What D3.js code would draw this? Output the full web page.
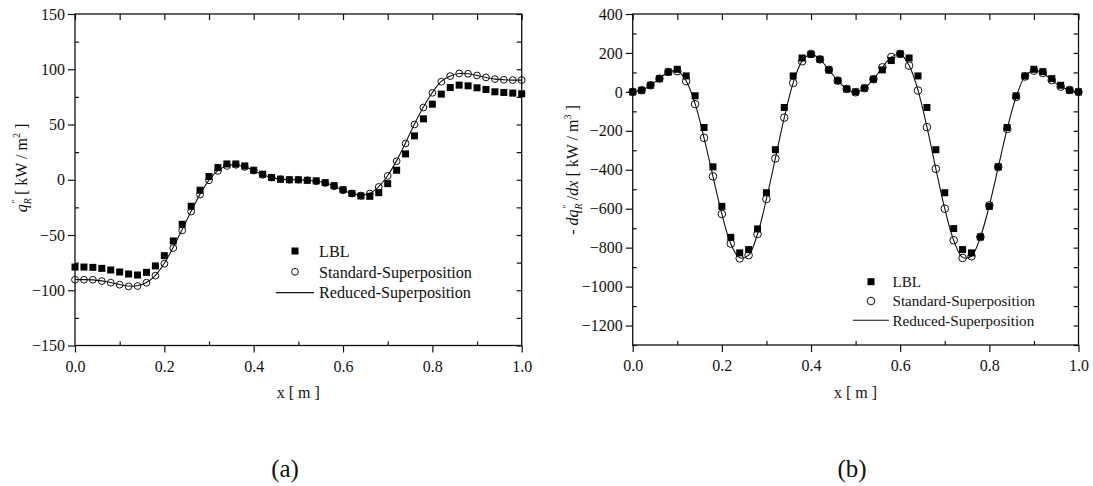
<!DOCTYPE html>
<html><head><meta charset="utf-8">
<script src="https://cdn.jsdelivr.net/npm/d3@7"></script>
<style>body{margin:0;background:#fff}svg{display:block}text{font-family:"Liberation Serif","Times New Roman",serif;fill:#111}</style>
</head><body><div id="chart"></div>
<script>
// ---------------- data ----------------
const xGrid = [0,0.02,0.04,0.06,0.08,0.10,0.12,0.14,0.16,0.18,0.20,0.22,0.24,0.26,0.28,0.30,0.32,0.34,0.36,0.38,0.40,0.42,0.44,0.46,0.48,0.50,0.52,0.54,0.56,0.58,0.60,0.62,0.64,0.66,0.68,0.70,0.72,0.74,0.76,0.78,0.80,0.82,0.84,0.86,0.88,0.90,0.92,0.94,0.96,0.98,1.00];

// panel (a): q_R [kW/m2]
const qLBL = [-79,-79,-79.3,-80.2,-81.7,-83.5,-85.3,-86.2,-83.8,-78,-68.7,-55.4,-40.3,-24,-9.5,2.9,11,14.3,14.3,12.5,8.6,5,2,0.5,0,0,-0.5,-1,-2.6,-5.3,-9,-12.4,-14.7,-15,-11.7,-3.5,8.6,23.4,39.7,55.1,68.4,77.5,83.5,85.6,85,83.2,81.7,79.6,79,78.4,77.8];
const qStandard = [-90.5,-90.5,-90.5,-91.7,-93.2,-95,-96.5,-96.2,-93.2,-86.8,-76,-61.8,-45.8,-28.8,-13.4,-0.5,8,12.5,13.5,11.6,8.3,4.4,2,0.5,0,0,-0.5,-1.3,-2.9,-5.9,-9.5,-12.5,-14.3,-12.5,-6.5,3.5,16.8,32.8,50,65.4,78.7,88.7,93.8,96.2,95.9,94.4,92.6,91.1,90.5,90.2,90.2];
const qReduced = [-90.3,-90.4,-90.6,-91.5,-93,-94.8,-96.2,-96,-93,-86.5,-75.5,-61,-45,-28.5,-13,-0.3,8.2,12.7,13.6,11.7,8.3,4.5,2.1,0.6,0.1,0,-0.4,-1.2,-2.8,-5.8,-9.4,-12.4,-14.1,-12.3,-6.2,3.8,17.3,33.5,50.5,65.8,79,89,94,96.2,95.9,94.4,92.6,91.1,90.5,90.2,90.2];

// panel (b): -dq_R/dx [kW/m3]
const dLBL = [0,8,34,68,102,116,82,-20,-183,-385,-588,-747,-827,-810,-704,-518,-297,-80,82,174,193,167,113,58,15,0,19,65,113,161,195,174,82,-80,-297,-518,-702,-810,-827,-745,-588,-385,-183,-20,82,116,104,68,34,8,0];
const dStandard = [0,8.5,34,68,102.5,106,55,-63,-236,-434,-627,-779,-855,-839,-730,-550,-342,-132,46,157,195,167,113,58,15,-2,19,65,126,179,195,135,7,-181,-395,-600,-762,-853,-844,-745,-583,-386,-190,-26,79,109,97,60,27,10,0];
const dReduced = [0,8,34,68,102,107,56,-62,-236,-434,-627,-780,-852,-838,-730,-550,-342,-132,46,158,194,167,113,58,15,-1,19,65,126,178,194,136,8,-180,-395,-600,-762,-850,-843,-745,-583,-386,-190,-26,79,109,97,60,27,10,0];

// ticks
const xMajor = [0,0.2,0.4,0.6,0.8,1.0];
const xMinor = [0.1,0.3,0.5,0.7,0.9];
const qMajor = [-150,-100,-50,0,50,100,150];
const qMinor = [-125,-75,-25,25,75,125];
const dMajor = [-1200,-1000,-800,-600,-400,-200,0,200,400];
const dMinor = [-1300,-1100,-900,-700,-500,-300,-100,100,300];
const seriesNames = ["LBL","Standard-Superposition","Reduced-Superposition"];
const panelLabels = ["(a)","(b)"];

// ---------------- drawing ----------------
const W = 1093, H = 486;
const svg = d3.select("#chart").append("svg").attr("width", W).attr("height", H);
svg.append("rect").attr("width", W).attr("height", H).attr("fill", "#fff");

function panel(o) {
  const x = d3.scaleLinear().domain([0, 1]).range([o.x0, o.x1]);
  const y = d3.scaleLinear().domain(o.yDomain).range([o.y1, o.y0]);
  const g = svg.append("g");
  const noLab = "";

  // major outward ticks + labels (left, bottom)
  const ax = g.append("g").attr("transform", `translate(${o.x0},0)`)
    .call(d3.axisLeft(y).tickValues(o.yMajor).tickSize(7).tickPadding(3).tickFormat(d3.format("d")));
  const bx = g.append("g").attr("transform", `translate(0,${o.y1})`)
    .call(d3.axisBottom(x).tickValues(xMajor).tickSize(7).tickPadding(8).tickFormat(d3.format(".1f")));
  // minor inward ticks (left, bottom)
  g.append("g").attr("transform", `translate(${o.x0},0)`)
    .call(d3.axisRight(y).tickValues(o.yMinor).tickSize(4).tickFormat(() => noLab));
  g.append("g").attr("transform", `translate(0,${o.y1})`)
    .call(d3.axisTop(x).tickValues(xMinor).tickSize(4).tickFormat(() => noLab));
  // top and right inward ticks
  g.append("g").attr("transform", `translate(0,${o.y0})`)
    .call(d3.axisBottom(x).tickValues(xMajor.concat(xMinor)).tickSize(6).tickFormat(() => noLab));
  g.append("g").attr("transform", `translate(${o.x1},0)`)
    .call(d3.axisLeft(y).tickValues(o.yMajor.concat(o.yMinor)).tickSize(5).tickFormat(() => noLab));

  g.selectAll(".domain").remove();
  g.selectAll(".tick line").attr("stroke", "#111").attr("stroke-width", 1.2);
  g.selectAll(".tick text").attr("font-size", 16).attr("font-family", '"Liberation Serif",serif').attr("fill", "#111");

  g.append("rect").attr("x", o.x0).attr("y", o.y0).attr("width", o.x1 - o.x0).attr("height", o.y1 - o.y0)
    .attr("fill", "none").attr("stroke", "#111").attr("stroke-width", 1.3);

  // reduced line
  const line = d3.line().x((d, i) => x(xGrid[i])).y(d => y(d)).curve(d3.curveCatmullRom.alpha(0.5));
  g.append("path").datum(o.red).attr("d", line).attr("fill", "none").attr("stroke", "#111").attr("stroke-width", 1.1);
  // LBL squares
  const s = o.sq;
  g.selectAll(".sq").data(o.lbl).join("rect")
    .attr("x", (d, i) => x(xGrid[i]) - s / 2).attr("y", d => y(d) - s / 2)
    .attr("width", s).attr("height", s).attr("fill", "#000");
  // standard circles
  g.selectAll(".ci").data(o.std).join("circle")
    .attr("cx", (d, i) => x(xGrid[i])).attr("cy", d => y(d)).attr("r", o.r)
    .attr("fill", "none").attr("stroke", "#111").attr("stroke-width", 1);

  // legend
  const L = o.leg;
  g.append("rect").attr("x", L.mx - s / 2).attr("y", L.y0 - s / 2).attr("width", s).attr("height", s).attr("fill", "#000");
  g.append("circle").attr("cx", L.mx).attr("cy", L.y0 + L.dy).attr("r", o.r).attr("fill", "none").attr("stroke", "#111");
  g.append("line").attr("x1", L.lx0).attr("x2", L.lx1).attr("y1", L.y0 + 2 * L.dy).attr("y2", L.y0 + 2 * L.dy)
    .attr("stroke", "#111").attr("stroke-width", 1.1);
  seriesNames.forEach((n, i) => {
    g.append("text").attr("x", L.tx).attr("y", L.y0 + i * L.dy + L.fs * 0.36)
      .attr("font-size", L.fs).text(n);
  });

  // x title
  g.append("text").attr("x", (o.x0 + o.x1) / 2).attr("y", 398).attr("text-anchor", "middle")
    .attr("font-size", 16).text("x [ m ]");
  // panel label
  g.append("text").attr("x", o.labX).attr("y", 477).attr("text-anchor", "middle")
    .attr("font-size", 25).attr("font-family", '"DejaVu Serif","Liberation Serif",serif').attr("font-weight", 300).text(o.label);
  return g;
}

const ga = panel({x0: 75, x1: 521.7, y0: 14, y1: 345.5, yDomain: [-150, 150], yMajor: qMajor, yMinor: qMinor,
  lbl: qLBL, std: qStandard, red: qReduced, sq: 7, r: 3.4,
  leg: {mx: 295, y0: 251, dy: 20.8, lx0: 276, lx1: 314, tx: 319, fs: 16.2}, labX: 285, label: panelLabels[0]});
const gb = panel({x0: 632.7, x1: 1078.5, y0: 14, y1: 345, yDomain: [-1300, 400], yMajor: dMajor, yMinor: dMinor,
  lbl: dLBL, std: dStandard, red: dReduced, sq: 7, r: 3.8,
  leg: {mx: 871, y0: 281.7, dy: 19.3, lx0: 853, lx1: 889, tx: 892.5, fs: 15.1}, labX: 852, label: panelLabels[1]});

// y titles
const ta = ga.append("text").attr("transform", "translate(27,168) rotate(-90)").attr("text-anchor", "middle").attr("font-size", 16);
ta.append("tspan").attr("font-style", "italic").text("q");
ta.append("tspan").attr("font-style", "italic").attr("font-size", 10).attr("dy", 4).text("R");
ta.append("tspan").attr("font-size", 10).attr("dx", -5).attr("dy", -12).text("\u2033");
ta.append("tspan").attr("dy", 8).text("  [ kW / m");
ta.append("tspan").attr("font-size", 10).attr("dy", -7).text("2");
ta.append("tspan").attr("dy", 7).text(" ]");

const tb = gb.append("text").attr("transform", "translate(578,170) rotate(-90)").attr("text-anchor", "middle").attr("font-size", 16);
tb.append("tspan").text("- ");
tb.append("tspan").attr("font-style", "italic").text("dq");
tb.append("tspan").attr("font-style", "italic").attr("font-size", 10).attr("dy", 4).text("R");
tb.append("tspan").attr("font-size", 10).attr("dx", -5).attr("dy", -12).text("\u2033");
tb.append("tspan").attr("dy", 8).text(" /");
tb.append("tspan").attr("font-style", "italic").text("dx");
tb.append("tspan").text("  [ kW / m");
tb.append("tspan").attr("font-size", 10).attr("dy", -7).text("3");
tb.append("tspan").attr("dy", 7).text(" ]");
</script></body></html>
